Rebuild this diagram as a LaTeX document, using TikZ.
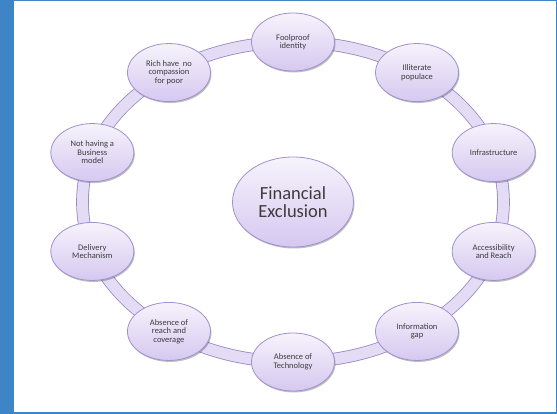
\documentclass[tikz,border=0pt]{standalone}
\usepackage{fontspec}
\setmainfont{Carlito}
\usepackage{tikz}
\usetikzlibrary{shapes.geometric,shadows,backgrounds}

\definecolor{frameblue}{RGB}{61,133,198}
\definecolor{ringfill}{RGB}{228,220,245}
\definecolor{ringedge}{RGB}{150,135,195}
\definecolor{nodetop}{RGB}{246,243,252}
\definecolor{nodebottom}{RGB}{214,200,240}
\definecolor{nodeedge}{RGB}{160,145,205}
\definecolor{textgray}{RGB}{60,60,60}

\begin{document}
\begin{tikzpicture}[x=1pt, y=1pt,
causenode/.style={ellipse, draw=nodeedge, line width=0.8pt, top color=nodetop, bottom color=nodebottom, minimum width=83pt, minimum height=58pt, inner sep=0pt, align=center, text=textgray, font=\fontsize{8.5}{8.5}\selectfont, drop shadow={shadow xshift=1pt, shadow yshift=-1.5pt, opacity=0.25, fill=black}},
mainnode/.style={causenode, minimum width=121pt, minimum height=90pt, font=\fontsize{18.5}{18.5}\selectfont},
ringlink/.style={draw=ringedge, line width=0.8pt, double=ringfill, double distance=11pt, looseness=0.87},
]
\useasboundingbox (-293,-212) rectangle (264,202);

%Nodes
\node[mainnode]   (FE)                         {Financial\\Exclusion};
\node[causenode]  (fool)     at (90:211pt and 160pt)   {Foolproof\\identity};
\node[causenode]  (illit)    at (54:211pt and 160pt)   {Illiterate\\populace};
\node[causenode]  (infra)    at (18:211pt and 160pt)   {Infrastructure};
\node[causenode]  (access)   at (-18:211pt and 160pt)  {Accessibility\\and Reach};
\node[causenode]  (infogap)  at (-54:211pt and 160pt)  {Information\\gap};
\node[causenode]  (abstech)  at (-90:211pt and 160pt)  {Absence of\\Technology};
\node[causenode]  (absreach) at (-126:211pt and 160pt) {Absence of\\reach and\\coverage};
\node[causenode]  (deliv)    at (-162:211pt and 160pt) {Delivery\\Mechanism};
\node[causenode]  (busmodel) at (162:211pt and 160pt)  {Not having a\\Business\\model};
\node[causenode]  (rich)     at (126:211pt and 160pt)  {Rich have~ no\\compassion\\for poor};

\begin{scope}[on background layer]
%Frame
\fill[white] (-293,-212) rectangle (264,202);
\fill[frameblue] (-293,-212) rectangle (-279,202);
\fill[frameblue] (-293,200.6) rectangle (264,202);
\fill[frameblue] (-293,-212) rectangle (264,-210.4);
\fill[frameblue] (263.2,-212) rectangle (264,202);

%Lines
\draw[ringlink] (fool.center) to[out=0, in=150.9] (illit.center);
\draw[ringlink] (illit.center) to[out=-29.1, in=113] (infra.center);
\draw[ringlink] (infra.center) to[out=-67, in=67] (access.center);
\draw[ringlink] (access.center) to[out=-113, in=29.1] (infogap.center);
\draw[ringlink] (infogap.center) to[out=-150.9, in=0] (abstech.center);
\draw[ringlink] (abstech.center) to[out=180, in=-29.1] (absreach.center);
\draw[ringlink] (absreach.center) to[out=150.9, in=-67] (deliv.center);
\draw[ringlink] (deliv.center) to[out=113, in=-113] (busmodel.center);
\draw[ringlink] (busmodel.center) to[out=67, in=-150.9] (rich.center);
\draw[ringlink] (rich.center) to[out=29.1, in=180] (fool.center);
\end{scope}
\end{tikzpicture}
\end{document}
